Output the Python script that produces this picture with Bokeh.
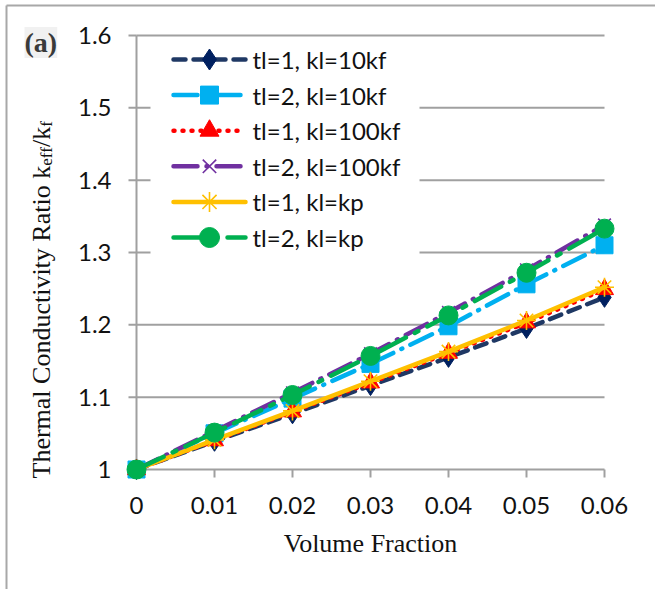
import math
from bokeh.plotting import figure
from bokeh.models import Range1d, Label
from bokeh.embed import file_html
from bokeh.resources import INLINE
from bokeh.core.properties import value

# ---------------- data ----------------
volume_fraction = [0, 0.01, 0.02, 0.03, 0.04, 0.05, 0.06]
tl1_kl10kf  = [1.0, 1.039, 1.077, 1.116, 1.155, 1.195, 1.238]
tl2_kl10kf  = [1.0, 1.050, 1.098, 1.146, 1.198, 1.256, 1.310]
tl1_kl100kf = [1.0, 1.040, 1.080, 1.120, 1.161, 1.203, 1.249]
tl2_kl100kf = [1.0, 1.053, 1.106, 1.160, 1.217, 1.276, 1.338]
tl1_klkp    = [1.0, 1.041, 1.081, 1.122, 1.163, 1.206, 1.252]
tl2_klkp    = [1.0, 1.051, 1.103, 1.157, 1.213, 1.272, 1.333]
series_labels = ["tl=1, kl=10kf", "tl=2, kl=10kf", "tl=1, kl=100kf",
                 "tl=2, kl=100kf", "tl=1, kl=kp", "tl=2, kl=kp"]
x_ticks = [0, 0.01, 0.02, 0.03, 0.04, 0.05, 0.06]
x_tick_labels = ["0", "0.01", "0.02", "0.03", "0.04", "0.05", "0.06"]
y_ticks = [1.0, 1.1, 1.2, 1.3, 1.4, 1.5, 1.6]
y_tick_labels = ["1", "1.1", "1.2", "1.3", "1.4", "1.5", "1.6"]

# ---------------- layout (frame covers whole canvas) ----------------
FIG_W, FIG_H = 655, 589
PX_X0, PX_X1 = 136, 604      # canvas px of first / last x tick
PX_Y0, PX_Y1 = 469, 35       # canvas px of first / last y tick
DX = (x_ticks[-1] - x_ticks[0]) / (PX_X1 - PX_X0)
DY = (y_ticks[-1] - y_ticks[0]) / (PX_Y0 - PX_Y1)


def dx(px):
    return x_ticks[0] + (px - PX_X0) * DX


def dy(py):
    return y_ticks[0] + (PX_Y0 - py) * DY


p = figure(frame_width=FIG_W, frame_height=FIG_H,
           min_border=0, min_border_left=0, min_border_right=0,
           min_border_top=0, min_border_bottom=0,
           x_range=Range1d(dx(0), dx(FIG_W)), y_range=Range1d(dy(FIG_H), dy(0)),
           output_backend="svg", toolbar_location=None, title=None)
p.outline_line_color = None
p.xaxis.visible = False
p.yaxis.visible = False
p.xgrid.visible = False
p.ygrid.visible = False
p.background_fill_color = "white"
p.border_fill_color = "white"

GRID = "#a0a0a0"
# outer frame of the picture (left and top edges)
p.segment(x0=[dx(6), dx(6)], x1=[dx(6), dx(FIG_W)], y0=[dy(FIG_H), dy(5)],
          y1=[dy(5), dy(5)], line_color="#a8a8a8", line_width=2)
# gridlines
p.segment(x0=[x_ticks[0]] * (len(y_ticks) - 1), x1=[x_ticks[-1]] * (len(y_ticks) - 1),
          y0=y_ticks[1:], y1=y_ticks[1:], line_color=GRID, line_width=2)
# legend background (covers gridlines)
p.quad(left=[dx(150)], right=[dx(419)], top=[dy(40)], bottom=[dy(259)],
       fill_color="white", line_color=None)
# axes lines
p.segment(x0=[x_ticks[0]], x1=[x_ticks[0]], y0=[y_ticks[0]], y1=[y_ticks[-1]],
          line_color=GRID, line_width=2)
p.segment(x0=[x_ticks[0]], x1=[x_ticks[-1]], y0=[y_ticks[0]], y1=[y_ticks[0]],
          line_color=GRID, line_width=2)
# tick marks
p.segment(x0=[x_ticks[0] - 8 * DX] * len(y_ticks), x1=[x_ticks[0]] * len(y_ticks),
          y0=y_ticks, y1=y_ticks, line_color=GRID, line_width=2)
p.segment(x0=x_ticks, x1=x_ticks, y0=[y_ticks[0]] * len(x_ticks),
          y1=[y_ticks[0] - 8 * DY] * len(x_ticks), line_color=GRID, line_width=2)

# tick labels
p.text(x=[dx(111)] * len(y_ticks), y=y_ticks, text=y_tick_labels,
       text_font=value("Lato"), text_font_size="24px", text_color="#111111",
       text_align="right", text_baseline="middle")
p.text(x=x_ticks, y=[dy(496)] * len(x_ticks), text=x_tick_labels,
       text_font=value("Lato"), text_font_size="24px", text_color="#111111",
       text_align="center", text_baseline="top")

series = [
    (tl1_kl10kf,  "#1F3864", "#002060", "diamond",  20, "12 8"),
    (tl2_kl10kf,  "#00B0F0", "#00B0F0", "square",   17, "24 9 1 9"),
    (tl1_kl100kf, "#FF0000", "#FF0000", "triangle", 18, "1 8"),
    (tl2_kl100kf, "#7030A0", "#7030A0", "x",        18, "24 9 1 9"),
    (tl1_klkp,    "#FFC000", "#FFC000", "asterisk", 19, "solid"),
    (tl2_klkp,    "#00B050", "#00B050", "circle",   19, "30 10 4 10"),
]

# legend geometry (canvas px)
LEG_X0, LEG_X1, LEG_TXT = 173, 245, 252
LEG_ROW0, LEG_PITCH = 59, 35.6

for i, ((vals, lc, fc, mk, sz, dash), lab) in enumerate(zip(series, series_labels)):
    lw = 1.6 if mk in ("x", "asterisk") else 1
    p.line(volume_fraction, vals, line_color=lc, line_width=4.5,
           line_dash=dash, line_cap="round", line_join="round")
    p.scatter(volume_fraction, vals, marker=mk, size=sz, fill_color=fc,
              line_color=fc, line_width=lw)
    # legend entry
    ry = dy(LEG_ROW0 + i * LEG_PITCH)
    p.line([dx(LEG_X0), dx(LEG_X1)], [ry, ry], line_color=lc, line_width=4.5,
           line_dash=dash, line_cap="round")
    p.scatter([dx((LEG_X0 + LEG_X1) / 2)], [ry], marker=mk, size=sz + 1,
              fill_color=fc, line_color=fc, line_width=lw)
    p.text([dx(LEG_TXT)], [ry], text=[lab], text_font=value("Lato"),
           text_font_size="24px", text_color="#111111",
           text_align="left", text_baseline="middle")

# x-axis title
p.add_layout(Label(x=(x_ticks[0] + x_ticks[-1]) / 2, y=dy(543), text="Volume Fraction",
                   text_font="Liberation Serif", text_font_size="26px",
                   text_color="#111111", text_align="center",
                   text_baseline="alphabetic"))

# y-axis title with subscripts (Times metrics)
W = {'T': 611, 'h': 500, 'e': 444, 'r': 333, 'm': 778, 'a': 444, 'l': 278, ' ': 250,
     'C': 667, 'o': 500, 'n': 500, 'd': 500, 'u': 500, 'c': 444, 't': 278, 'i': 278,
     'v': 500, 'y': 500, 'R': 667, 'k': 500, 'f': 333, '/': 278}
pieces = [("Thermal Conductivity Ratio k", 26, 0), ("eff", 17, 5), ("/k", 26, 0), ("f", 17, 5)]
ypos = 478.0
for txt, fs, shift in pieces:
    p.add_layout(Label(x=dx(41 + shift), y=dy(ypos), text=txt, angle=math.pi / 2,
                       text_font="Liberation Serif", text_font_size=f"{fs}px",
                       text_color="#111111", text_align="left",
                       text_baseline="alphabetic"))
    ypos -= sum(W.get(c, 500) for c in txt) * fs / 1000.0

# panel tag
p.add_layout(Label(x=dx(24), y=dy(42), text="(a)", text_font="Liberation Serif",
                   text_font_size="28px", text_font_style="bold", text_color="#3a3a3a",
                   text_align="left", text_baseline="middle",
                   background_fill_color="#eeeeee", background_fill_alpha=0.8))

open("out.html", "w").write(file_html(p, INLINE))
